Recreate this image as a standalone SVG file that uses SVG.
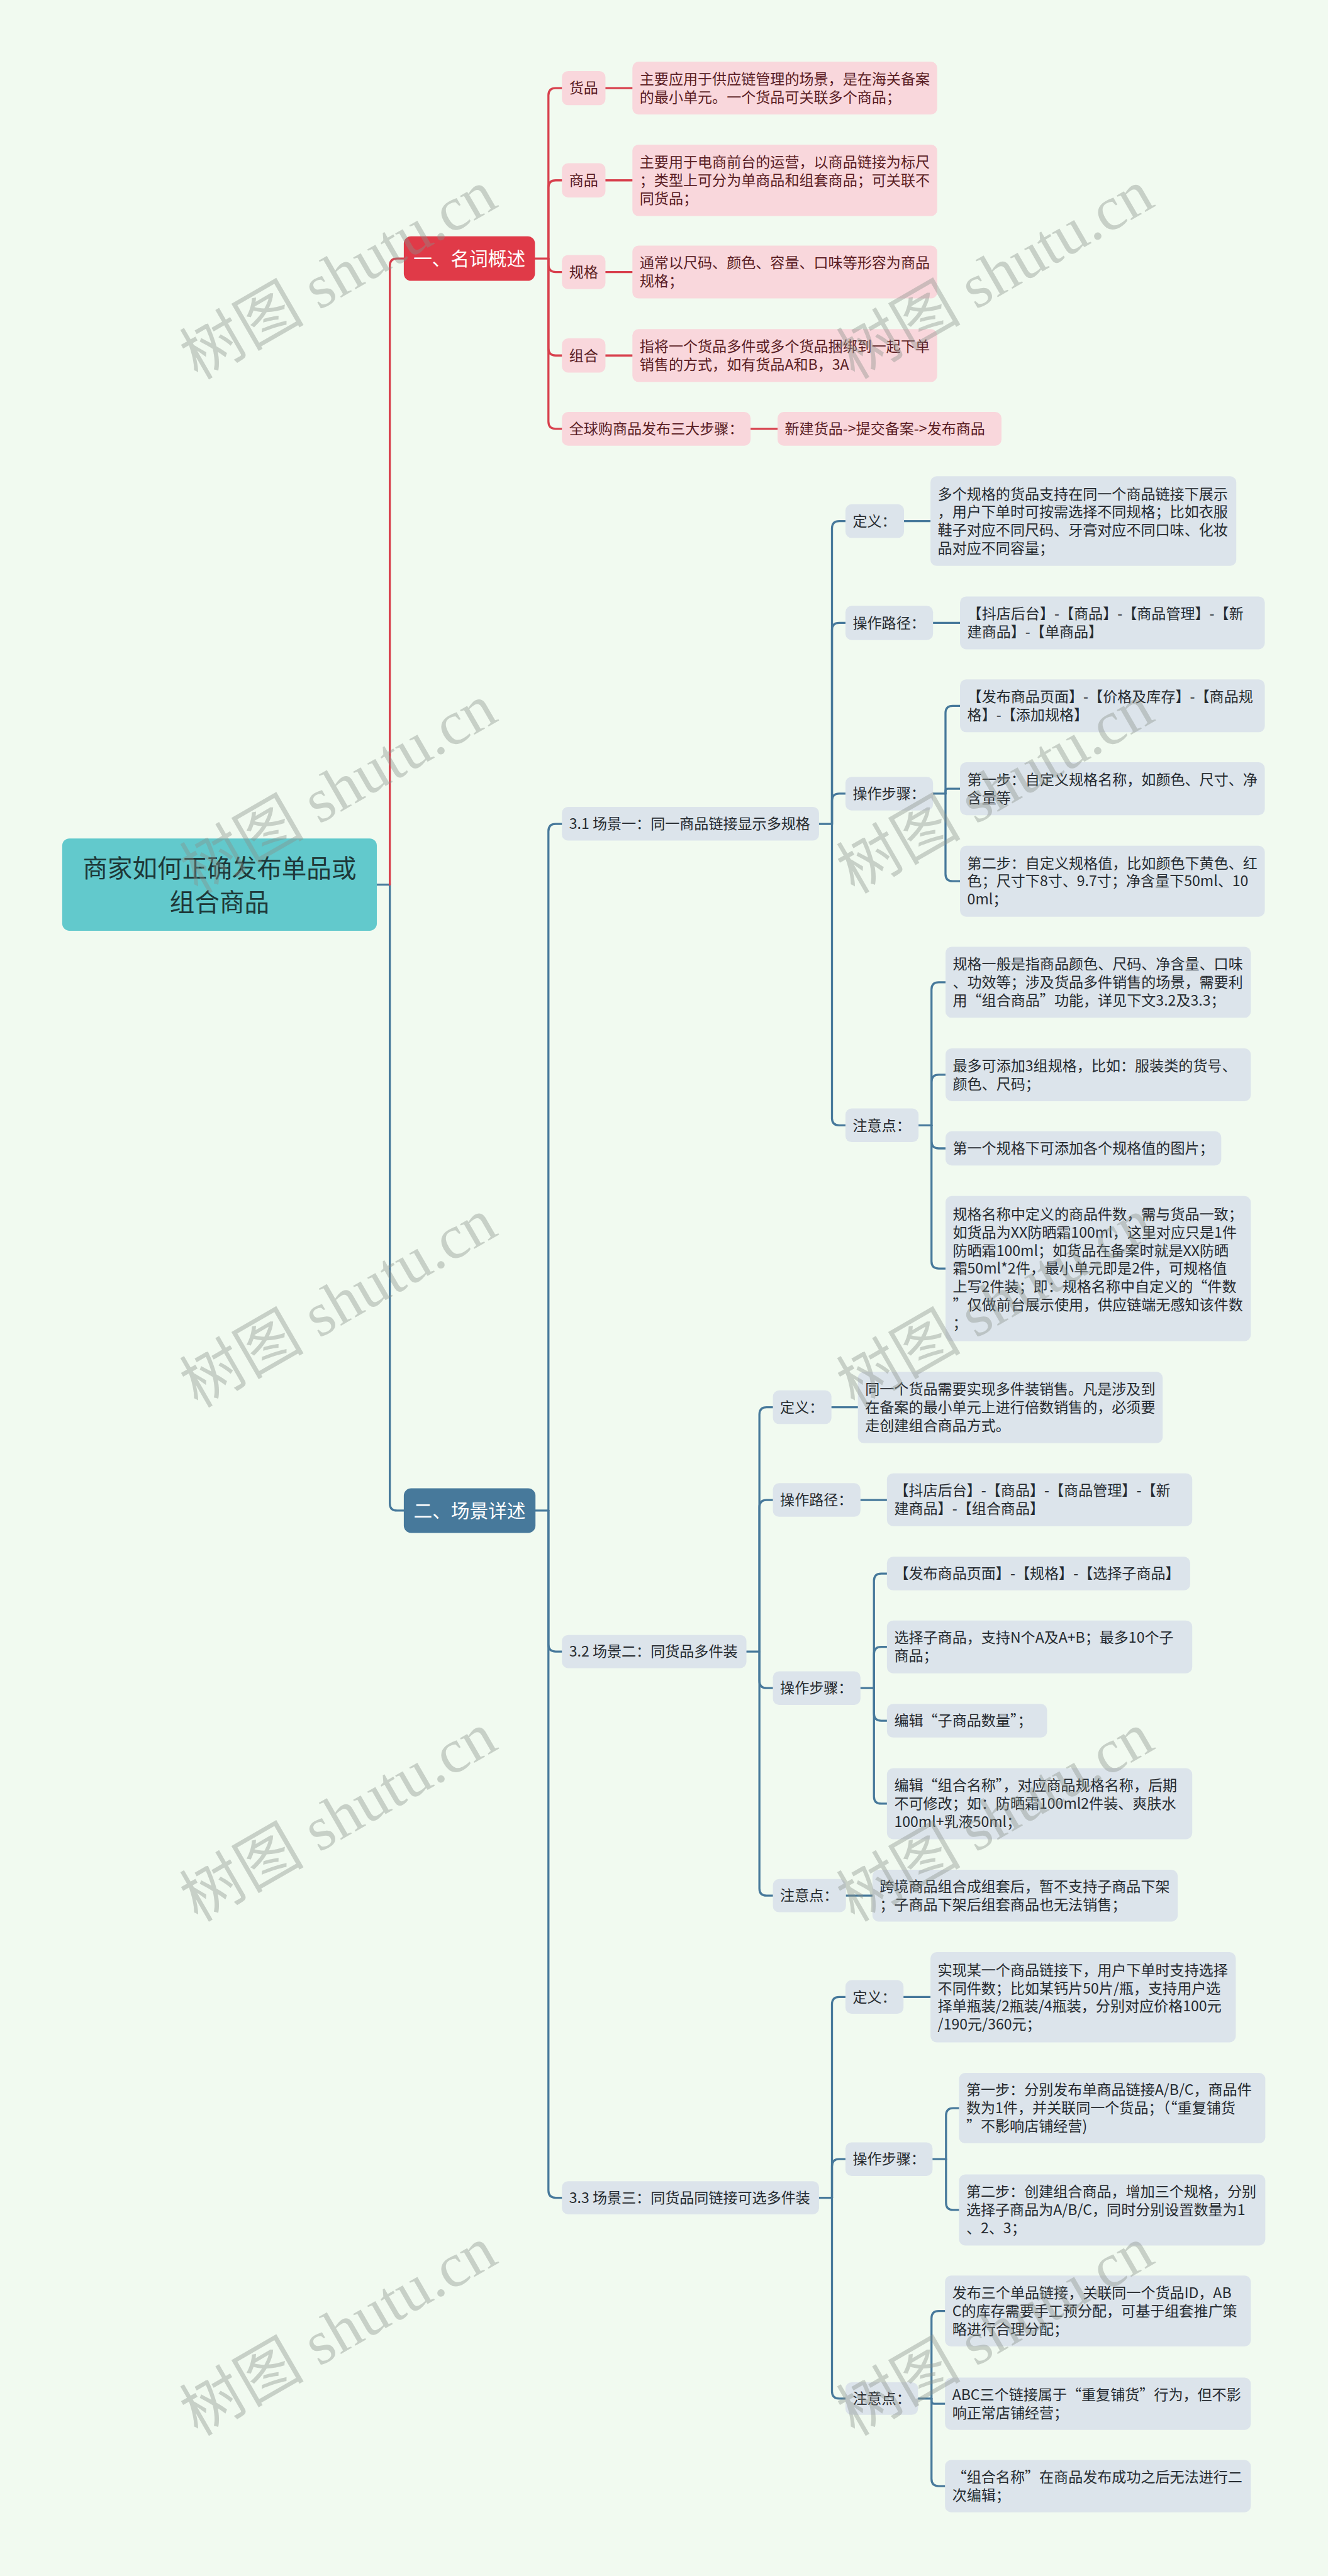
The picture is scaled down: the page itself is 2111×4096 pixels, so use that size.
<svg xmlns="http://www.w3.org/2000/svg" width="2111" height="4096" viewBox="0 0 2111 4096">
<style>
.bg{fill:#F1FAF0}
.pk{fill:#F9D7DC}
.gy{fill:#DCE4EB}
.tp{font-family:"Noto Sans CJK SC",sans-serif;font-size:28px;fill:#5A1D24}
.tg{font-family:"Noto Sans CJK SC",sans-serif;font-size:28px;fill:#262B30}
.tw{font-family:"Noto Sans CJK SC",sans-serif;font-size:36px;fill:#FFFFFF;text-anchor:middle}
.tr{font-family:"Noto Sans CJK SC",sans-serif;font-size:48px;fill:#1E3838;text-anchor:middle}
.lr{fill:none;stroke:#D8404D;stroke-width:4;stroke-linecap:round}
.lb{fill:none;stroke:#47799B;stroke-width:4;stroke-linecap:round}
.wm{font-family:"Liberation Serif","Noto Sans CJK SC",serif;font-size:120px;fill:#8A918A;fill-opacity:0.4;text-anchor:middle}
</style>
<rect class="bg" x="0" y="0" width="2111" height="4096"/>
<g transform="scale(0.824)">
<g id="connectors">
<path class="lb" d="M727 1707 H752 V2901 Q752 2915 766 2915 H779"/>
<path class="lr" d="M752 1707 V513 Q752 499 766 499 H779"/>
<path class="lr" d="M1032 499 H1058 V184 Q1058 170 1072 170 H1084"/>
<path class="lr" d="M1058 499 V362 Q1058 348 1072 348 H1084"/>
<path class="lr" d="M1058 499 V511 Q1058 525 1072 525 H1084"/>
<path class="lr" d="M1058 499 V672 Q1058 686 1072 686 H1084"/>
<path class="lr" d="M1058 499 V813.5 Q1058 827.5 1072 827.5 H1084"/>
<path class="lr" d="M1168 170 H1220 M1168 348 H1220 M1168 525 H1220 M1168 686 H1220 M1448 827.5 H1500"/>
<path class="lb" d="M1033 2915 H1058"/>
<path class="lb" d="M1058 2915 V1604 Q1058 1590 1072 1590 H1084"/>
<path class="lb" d="M1058 2915 V3173 Q1058 3187 1072 3187 H1084"/>
<path class="lb" d="M1058 2915 V4227 Q1058 4241 1072 4241 H1084"/>
<path class="lb" d="M1580 1590 H1605"/>
<path class="lb" d="M1605 1590 V1019.5 Q1605 1005.5 1619 1005.5 H1631"/>
<path class="lb" d="M1605 1590 V1216 Q1605 1202 1619 1202 H1631"/>
<path class="lb" d="M1605 1590 V1545.5 Q1605 1531.5 1619 1531.5 H1631"/>
<path class="lb" d="M1605 1590 V2157.5 Q1605 2171.5 1619 2171.5 H1631"/>
<path class="lb" d="M1744 1005.5 H1795 M1800 1202 H1852"/>
<path class="lb" d="M1800 1531.5 H1824"/>
<path class="lb" d="M1824 1531.5 V1376 Q1824 1362 1838 1362 H1852"/>
<path class="lb" d="M1824 1531.5 V1526.5 Q1824 1522 1828.5 1522 H1852"/>
<path class="lb" d="M1824 1531.5 V1686.5 Q1824 1700.5 1838 1700.5 H1852"/>
<path class="lb" d="M1772 2171.5 H1797"/>
<path class="lb" d="M1797 2171.5 V1909.5 Q1797 1895.5 1811 1895.5 H1824"/>
<path class="lb" d="M1797 2171.5 V2088 Q1797 2074 1811 2074 H1824"/>
<path class="lb" d="M1797 2171.5 V2202 Q1797 2216 1811 2216 H1824"/>
<path class="lb" d="M1797 2171.5 V2434 Q1797 2448 1811 2448 H1824"/>
<path class="lb" d="M1440 3187 H1465"/>
<path class="lb" d="M1465 3187 V2729.5 Q1465 2715.5 1479 2715.5 H1491"/>
<path class="lb" d="M1465 3187 V2908.5 Q1465 2894.5 1479 2894.5 H1491"/>
<path class="lb" d="M1465 3187 V3243.5 Q1465 3257.5 1479 3257.5 H1491"/>
<path class="lb" d="M1465 3187 V3644 Q1465 3658 1479 3658 H1491"/>
<path class="lb" d="M1604 2715.5 H1655 M1660 2894.5 H1711 M1632 3658 H1683"/>
<path class="lb" d="M1660 3257.5 H1686"/>
<path class="lb" d="M1686 3257.5 V3050.5 Q1686 3036.5 1700 3036.5 H1711"/>
<path class="lb" d="M1686 3257.5 V3192 Q1686 3178 1700 3178 H1711"/>
<path class="lb" d="M1686 3257.5 V3306.5 Q1686 3320.5 1700 3320.5 H1711"/>
<path class="lb" d="M1686 3257.5 V3466.5 Q1686 3480.5 1700 3480.5 H1711"/>
<path class="lb" d="M1580 4241 H1605"/>
<path class="lb" d="M1605 4241 V3867.5 Q1605 3853.5 1619 3853.5 H1631"/>
<path class="lb" d="M1605 4241 V4180.5 Q1605 4166.5 1619 4166.5 H1631"/>
<path class="lb" d="M1605 4241 V4614.5 Q1605 4628.5 1619 4628.5 H1631"/>
<path class="lb" d="M1743 3853.5 H1795"/>
<path class="lb" d="M1799 4166.5 H1825"/>
<path class="lb" d="M1825 4166.5 V4082 Q1825 4068 1839 4068 H1850"/>
<path class="lb" d="M1825 4166.5 V4250.5 Q1825 4264.5 1839 4264.5 H1850"/>
<path class="lb" d="M1771 4628.5 H1797"/>
<path class="lb" d="M1797 4628.5 V4473.5 Q1797 4459.5 1811 4459.5 H1823"/>
<path class="lb" d="M1797 4628.5 V4633.5 Q1797 4638.5 1802 4638.5 H1823"/>
<path class="lb" d="M1797 4628.5 V4783.5 Q1797 4797.5 1811 4797.5 H1823"/>
</g>

<g id="root"><rect x="120" y="1618" width="607" height="178" rx="14" fill="#62C9CC"/><text class="tr"><tspan x="423.5" y="1693">商家如何正确发布单品或</tspan><tspan x="423.5" y="1758">组合商品</tspan></text></g>

<g id="sec1"><rect x="779" y="456" width="253" height="86" rx="14" fill="#E03A48"/><text class="tw" x="905.5" y="512">一、名词概述</text></g>
<g id="huopin"><rect class="pk" x="1084" y="137" width="84" height="66" rx="12"/><text class="tp" x="1098" y="180">货品</text></g>
<g id="huopin-d"><rect class="pk" x="1220" y="119" width="588" height="102" rx="12"/><text class="tp"><tspan x="1234" y="162.5">主要应用于供应链管理的场景，是在海关备案</tspan><tspan x="1234" y="197.5">的最小单元。一个货品可关联多个商品；</tspan></text></g>
<g id="shangpin"><rect class="pk" x="1084" y="315" width="84" height="66" rx="12"/><text class="tp" x="1098" y="358">商品</text></g>
<g id="shangpin-d"><rect class="pk" x="1220" y="279" width="588" height="138" rx="12"/><text class="tp"><tspan x="1234" y="323">主要用于电商前台的运营，以商品链接为标尺</tspan><tspan x="1234" y="358">；类型上可分为单商品和组套商品；可关联不</tspan><tspan x="1234" y="393">同货品；</tspan></text></g>
<g id="guige"><rect class="pk" x="1084" y="492" width="84" height="66" rx="12"/><text class="tp" x="1098" y="535">规格</text></g>
<g id="guige-d"><rect class="pk" x="1220" y="474" width="588" height="102" rx="12"/><text class="tp"><tspan x="1234" y="517.5">通常以尺码、颜色、容量、口味等形容为商品</tspan><tspan x="1234" y="552.5">规格；</tspan></text></g>
<g id="zuhe"><rect class="pk" x="1084" y="653" width="84" height="66" rx="12"/><text class="tp" x="1098" y="696">组合</text></g>
<g id="zuhe-d"><rect class="pk" x="1220" y="635" width="588" height="102" rx="12"/><text class="tp"><tspan x="1234" y="678.5">指将一个货品多件或多个货品捆绑到一起下单</tspan><tspan x="1234" y="713.5">销售的方式，如有货品A和B，3A</tspan></text></g>
<g id="qqg"><rect class="pk" x="1084" y="795" width="364" height="65" rx="12"/><text class="tp" x="1098" y="837.5">全球购商品发布三大步骤：</text></g>
<g id="qqg-d"><rect class="pk" x="1500" y="795" width="432" height="65" rx="12"/><text class="tp" x="1514" y="837.5">新建货品-&gt;提交备案-&gt;发布商品</text></g>

<g id="sec2"><rect x="779" y="2872" width="254" height="86" rx="14" fill="#47799B"/><text class="tw" x="906" y="2928">二、场景详述</text></g>

<g id="s1"><rect class="gy" x="1084" y="1557" width="496" height="65" rx="12"/><text class="tg" x="1098" y="1599.5">3.1 场景一：同一商品链接显示多规格</text></g>
<g id="s1-def"><rect class="gy" x="1631" y="973" width="113" height="65" rx="12"/><text class="tg" x="1645" y="1015.5">定义：</text></g>
<g id="s1-def-d"><rect class="gy" x="1795" y="919" width="590" height="173" rx="12"/><text class="tg"><tspan x="1809" y="963">多个规格的货品支持在同一个商品链接下展示</tspan><tspan x="1809" y="998">，用户下单时可按需选择不同规格；比如衣服</tspan><tspan x="1809" y="1033">鞋子对应不同尺码、牙膏对应不同口味、化妆</tspan><tspan x="1809" y="1068">品对应不同容量；</tspan></text></g>
<g id="s1-path"><rect class="gy" x="1631" y="1169" width="169" height="66" rx="12"/><text class="tg" x="1645" y="1212">操作路径：</text></g>
<g id="s1-path-d"><rect class="gy" x="1852" y="1151" width="588" height="102" rx="12"/><text class="tg"><tspan x="1866" y="1194.5">【抖店后台】-【商品】-【商品管理】-【新</tspan><tspan x="1866" y="1229.5">建商品】-【单商品】</tspan></text></g>
<g id="s1-step"><rect class="gy" x="1631" y="1499" width="169" height="65" rx="12"/><text class="tg" x="1645" y="1541.5">操作步骤：</text></g>
<g id="s1-step-1"><rect class="gy" x="1852" y="1311" width="588" height="102" rx="12"/><text class="tg"><tspan x="1866" y="1354.5">【发布商品页面】-【价格及库存】-【商品规</tspan><tspan x="1866" y="1389.5">格】-【添加规格】</tspan></text></g>
<g id="s1-step-2"><rect class="gy" x="1852" y="1471" width="588" height="102" rx="12"/><text class="tg"><tspan x="1866" y="1514.5">第一步：自定义规格名称，如颜色、尺寸、净</tspan><tspan x="1866" y="1549.5">含量等</tspan></text></g>
<g id="s1-step-3"><rect class="gy" x="1852" y="1632" width="588" height="137" rx="12"/><text class="tg"><tspan x="1866" y="1675.5">第二步：自定义规格值，比如颜色下黄色、红</tspan><tspan x="1866" y="1710.5">色；尺寸下8寸、9.7寸；净含量下50ml、10</tspan><tspan x="1866" y="1745.5">0ml；</tspan></text></g>
<g id="s1-note"><rect class="gy" x="1631" y="2139" width="141" height="65" rx="12"/><text class="tg" x="1645" y="2181.5">注意点：</text></g>
<g id="s1-note-1"><rect class="gy" x="1824" y="1827" width="589" height="137" rx="12"/><text class="tg"><tspan x="1838" y="1870.5">规格一般是指商品颜色、尺码、净含量、口味</tspan><tspan x="1838" y="1905.5">、功效等；涉及货品多件销售的场景，需要利</tspan><tspan x="1838" y="1940.5">用“组合商品”功能，详见下文3.2及3.3；</tspan></text></g>
<g id="s1-note-2"><rect class="gy" x="1824" y="2023" width="589" height="102" rx="12"/><text class="tg"><tspan x="1838" y="2066.5">最多可添加3组规格，比如：服装类的货号、</tspan><tspan x="1838" y="2101.5">颜色、尺码；</tspan></text></g>
<g id="s1-note-3"><rect class="gy" x="1824" y="2183" width="532" height="66" rx="12"/><text class="tg" x="1838" y="2226">第一个规格下可添加各个规格值的图片；</text></g>
<g id="s1-note-4"><rect class="gy" x="1824" y="2308" width="589" height="280" rx="12"/><text class="tg"><tspan x="1838" y="2353">规格名称中定义的商品件数，需与货品一致；</tspan><tspan x="1838" y="2388">如货品为XX防晒霜100ml，这里对应只是1件</tspan><tspan x="1838" y="2423">防晒霜100ml；如货品在备案时就是XX防晒</tspan><tspan x="1838" y="2458">霜50ml*2件，最小单元即是2件，可规格值</tspan><tspan x="1838" y="2493">上写2件装；即：规格名称中自定义的“件数</tspan><tspan x="1838" y="2528">”仅做前台展示使用，供应链端无感知该件数</tspan><tspan x="1838" y="2563">；</tspan></text></g>

<g id="s2"><rect class="gy" x="1084" y="3155" width="356" height="64" rx="12"/><text class="tg" x="1098" y="3197">3.2 场景二：同货品多件装</text></g>
<g id="s2-def"><rect class="gy" x="1491" y="2683" width="113" height="65" rx="12"/><text class="tg" x="1505" y="2725.5">定义：</text></g>
<g id="s2-def-d"><rect class="gy" x="1655" y="2647" width="588" height="138" rx="12"/><text class="tg"><tspan x="1669" y="2691">同一个货品需要实现多件装销售。凡是涉及到</tspan><tspan x="1669" y="2726">在备案的最小单元上进行倍数销售的，必须要</tspan><tspan x="1669" y="2761">走创建组合商品方式。</tspan></text></g>
<g id="s2-path"><rect class="gy" x="1491" y="2862" width="169" height="65" rx="12"/><text class="tg" x="1505" y="2904.5">操作路径：</text></g>
<g id="s2-path-d"><rect class="gy" x="1711" y="2843" width="589" height="102" rx="12"/><text class="tg"><tspan x="1725" y="2886.5">【抖店后台】-【商品】-【商品管理】-【新</tspan><tspan x="1725" y="2921.5">建商品】-【组合商品】</tspan></text></g>
<g id="s2-step"><rect class="gy" x="1491" y="3225" width="169" height="65" rx="12"/><text class="tg" x="1505" y="3267.5">操作步骤：</text></g>
<g id="s2-step-1"><rect class="gy" x="1711" y="3004" width="585" height="65" rx="12"/><text class="tg" x="1725" y="3046.5">【发布商品页面】-【规格】-【选择子商品】</text></g>
<g id="s2-step-2"><rect class="gy" x="1711" y="3127" width="589" height="102" rx="12"/><text class="tg"><tspan x="1725" y="3170.5">选择子商品，支持N个A及A+B；最多10个子</tspan><tspan x="1725" y="3205.5">商品；</tspan></text></g>
<g id="s2-step-3"><rect class="gy" x="1711" y="3288" width="309" height="65" rx="12"/><text class="tg" x="1725" y="3330.5">编辑“子商品数量”；</text></g>
<g id="s2-step-4"><rect class="gy" x="1711" y="3412" width="589" height="137" rx="12"/><text class="tg"><tspan x="1725" y="3455.5">编辑“组合名称”，对应商品规格名称，后期</tspan><tspan x="1725" y="3490.5">不可修改；如：防晒霜100ml2件装、爽肤水</tspan><tspan x="1725" y="3525.5">100ml+乳液50ml；</tspan></text></g>
<g id="s2-note"><rect class="gy" x="1491" y="3626" width="141" height="64" rx="12"/><text class="tg" x="1505" y="3668">注意点：</text></g>
<g id="s2-note-d"><rect class="gy" x="1683" y="3608" width="589" height="100" rx="12"/><text class="tg"><tspan x="1697" y="3650.5">跨境商品组合成组套后，暂不支持子商品下架</tspan><tspan x="1697" y="3685.5">；子商品下架后组套商品也无法销售；</tspan></text></g>

<g id="s3"><rect class="gy" x="1084" y="4209" width="496" height="64" rx="12"/><text class="tg" x="1098" y="4251">3.3 场景三：同货品同链接可选多件装</text></g>
<g id="s3-def"><rect class="gy" x="1631" y="3821" width="112" height="65" rx="12"/><text class="tg" x="1645" y="3863.5">定义：</text></g>
<g id="s3-def-d"><rect class="gy" x="1795" y="3767" width="589" height="174" rx="12"/><text class="tg"><tspan x="1809" y="3811.5">实现某一个商品链接下，用户下单时支持选择</tspan><tspan x="1809" y="3846.5">不同件数；比如某钙片50片/瓶，支持用户选</tspan><tspan x="1809" y="3881.5">择单瓶装/2瓶装/4瓶装，分别对应价格100元</tspan><tspan x="1809" y="3916.5">/190元/360元；</tspan></text></g>
<g id="s3-step"><rect class="gy" x="1631" y="4134" width="168" height="65" rx="12"/><text class="tg" x="1645" y="4176.5">操作步骤：</text></g>
<g id="s3-step-1"><rect class="gy" x="1850" y="4000" width="591" height="136" rx="12"/><text class="tg"><tspan x="1864" y="4043">第一步：分别发布单商品链接A/B/C，商品件</tspan><tspan x="1864" y="4078">数为1件，并关联同一个货品；（“重复铺货</tspan><tspan x="1864" y="4113">”不影响店铺经营)</tspan></text></g>
<g id="s3-step-2"><rect class="gy" x="1850" y="4196" width="591" height="137" rx="12"/><text class="tg"><tspan x="1864" y="4239.5">第二步：创建组合商品，增加三个规格，分别</tspan><tspan x="1864" y="4274.5">选择子商品为A/B/C，同时分别设置数量为1</tspan><tspan x="1864" y="4309.5">、2、3；</tspan></text></g>
<g id="s3-note"><rect class="gy" x="1631" y="4597" width="140" height="63" rx="12"/><text class="tg" x="1645" y="4638.5">注意点：</text></g>
<g id="s3-note-1"><rect class="gy" x="1823" y="4391" width="590" height="137" rx="12"/><text class="tg"><tspan x="1837" y="4434.5">发布三个单品链接，关联同一个货品ID，AB</tspan><tspan x="1837" y="4469.5">C的库存需要手工预分配，可基于组套推广策</tspan><tspan x="1837" y="4504.5">略进行合理分配；</tspan></text></g>
<g id="s3-note-2"><rect class="gy" x="1823" y="4588" width="590" height="101" rx="12"/><text class="tg"><tspan x="1837" y="4631">ABC三个链接属于“重复铺货”行为，但不影</tspan><tspan x="1837" y="4666">响正常店铺经营；</tspan></text></g>
<g id="s3-note-3"><rect class="gy" x="1823" y="4747" width="590" height="101" rx="12"/><text class="tg"><tspan x="1837" y="4790">“组合名称”在商品发布成功之后无法进行二</tspan><tspan x="1837" y="4825">次编辑；</tspan></text></g>

<g id="watermark" class="wm">
<text x="653" y="571" transform="rotate(-30 653 531)">树图 shutu.cn</text>
<text x="1920" y="570" transform="rotate(-30 1920 530)">树图 shutu.cn</text>
<text x="653" y="1563" transform="rotate(-30 653 1523)">树图 shutu.cn</text>
<text x="1920" y="1563" transform="rotate(-30 1920 1523)">树图 shutu.cn</text>
<text x="653" y="2555" transform="rotate(-30 653 2515)">树图 shutu.cn</text>
<text x="1920" y="2555" transform="rotate(-30 1920 2515)">树图 shutu.cn</text>
<text x="653" y="3547" transform="rotate(-30 653 3507)">树图 shutu.cn</text>
<text x="1920" y="3547" transform="rotate(-30 1920 3507)">树图 shutu.cn</text>
<text x="653" y="4539" transform="rotate(-30 653 4499)">树图 shutu.cn</text>
<text x="1920" y="4539" transform="rotate(-30 1920 4499)">树图 shutu.cn</text>
</g>
</g>
</svg>
